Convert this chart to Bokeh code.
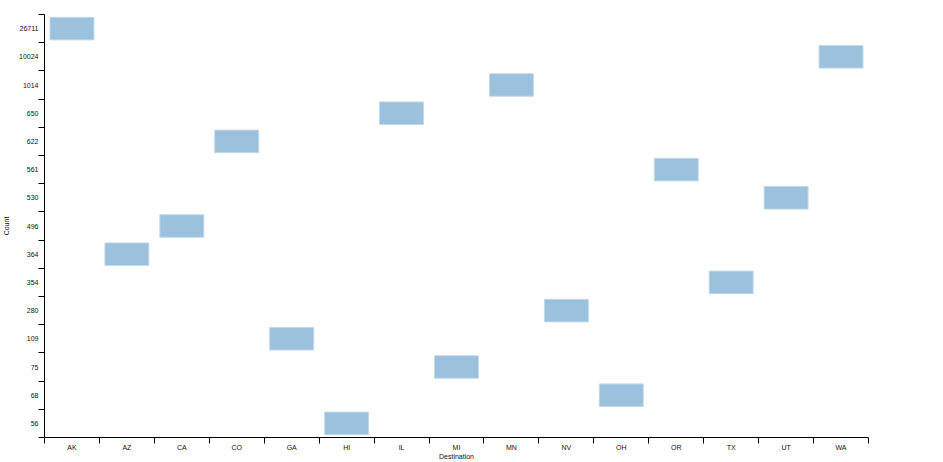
from bokeh.plotting import figure
from bokeh.models import FactorRange, LinearAxis, FixedTicker, ColumnDataSource
from bokeh.embed import file_html
from bokeh.resources import INLINE

# ---- data ----
destinations = ["AK", "AZ", "CA", "CO", "GA", "HI", "IL", "MI", "MN", "NV",
                "OH", "OR", "TX", "UT", "WA"]
counts = [26711, 364, 496, 622, 109, 56, 650, 75, 1014, 280, 68, 561, 354, 530, 10024]
count_levels = [str(c) for c in sorted(counts)]  # bottom -> top

FONT = "Liberation Sans"
TXT = "#111111"

x_range = FactorRange(factors=destinations, range_padding=0)
y_range = FactorRange(factors=count_levels, range_padding=0)

p = figure(width=890, height=462, x_range=x_range, y_range=y_range,
           x_axis_type=None, y_axis_type=None,
           output_backend="svg", toolbar_location=None,
           min_border_left=44, min_border_top=14, min_border_right=22,
           min_border_bottom=24)
p.outline_line_color = None
p.xgrid.visible = False
p.ygrid.visible = False

src = ColumnDataSource(dict(dest=destinations, count=[str(c) for c in counts]))
p.rect(x="dest", y="count", width=0.8, height=0.8, source=src,
       fill_color="#9cc1dc", line_color="#c2d9ea", line_width=1)


def make_axis(levels, label, label_standoff):
    centers = [i + 0.5 for i in range(len(levels))]
    bounds = [float(i) for i in range(len(levels) + 1)]
    ax = LinearAxis(ticker=FixedTicker(ticks=centers, minor_ticks=bounds),
                    major_label_overrides={c: l for c, l in zip(centers, levels)},
                    axis_label=label)
    ax.major_tick_line_color = None
    ax.major_tick_out = 6
    ax.major_tick_in = 0
    ax.minor_tick_line_color = "black"
    ax.minor_tick_out = 6
    ax.minor_tick_in = 0
    ax.axis_line_color = "black"
    ax.major_label_standoff = 0
    ax.major_label_text_font = FONT
    ax.major_label_text_font_size = "7px"
    ax.major_label_text_color = TXT
    ax.axis_label_text_font = FONT
    ax.axis_label_text_font_size = "7px"
    ax.axis_label_text_font_style = "normal"
    ax.axis_label_text_color = TXT
    ax.axis_label_standoff = label_standoff
    return ax


xaxis = make_axis(destinations, "Destination", -1)
yaxis = make_axis(count_levels, "Count", 6)
p.add_layout(xaxis, "below")
p.add_layout(yaxis, "left")

open("out.html", "w").write(file_html(p, INLINE))
